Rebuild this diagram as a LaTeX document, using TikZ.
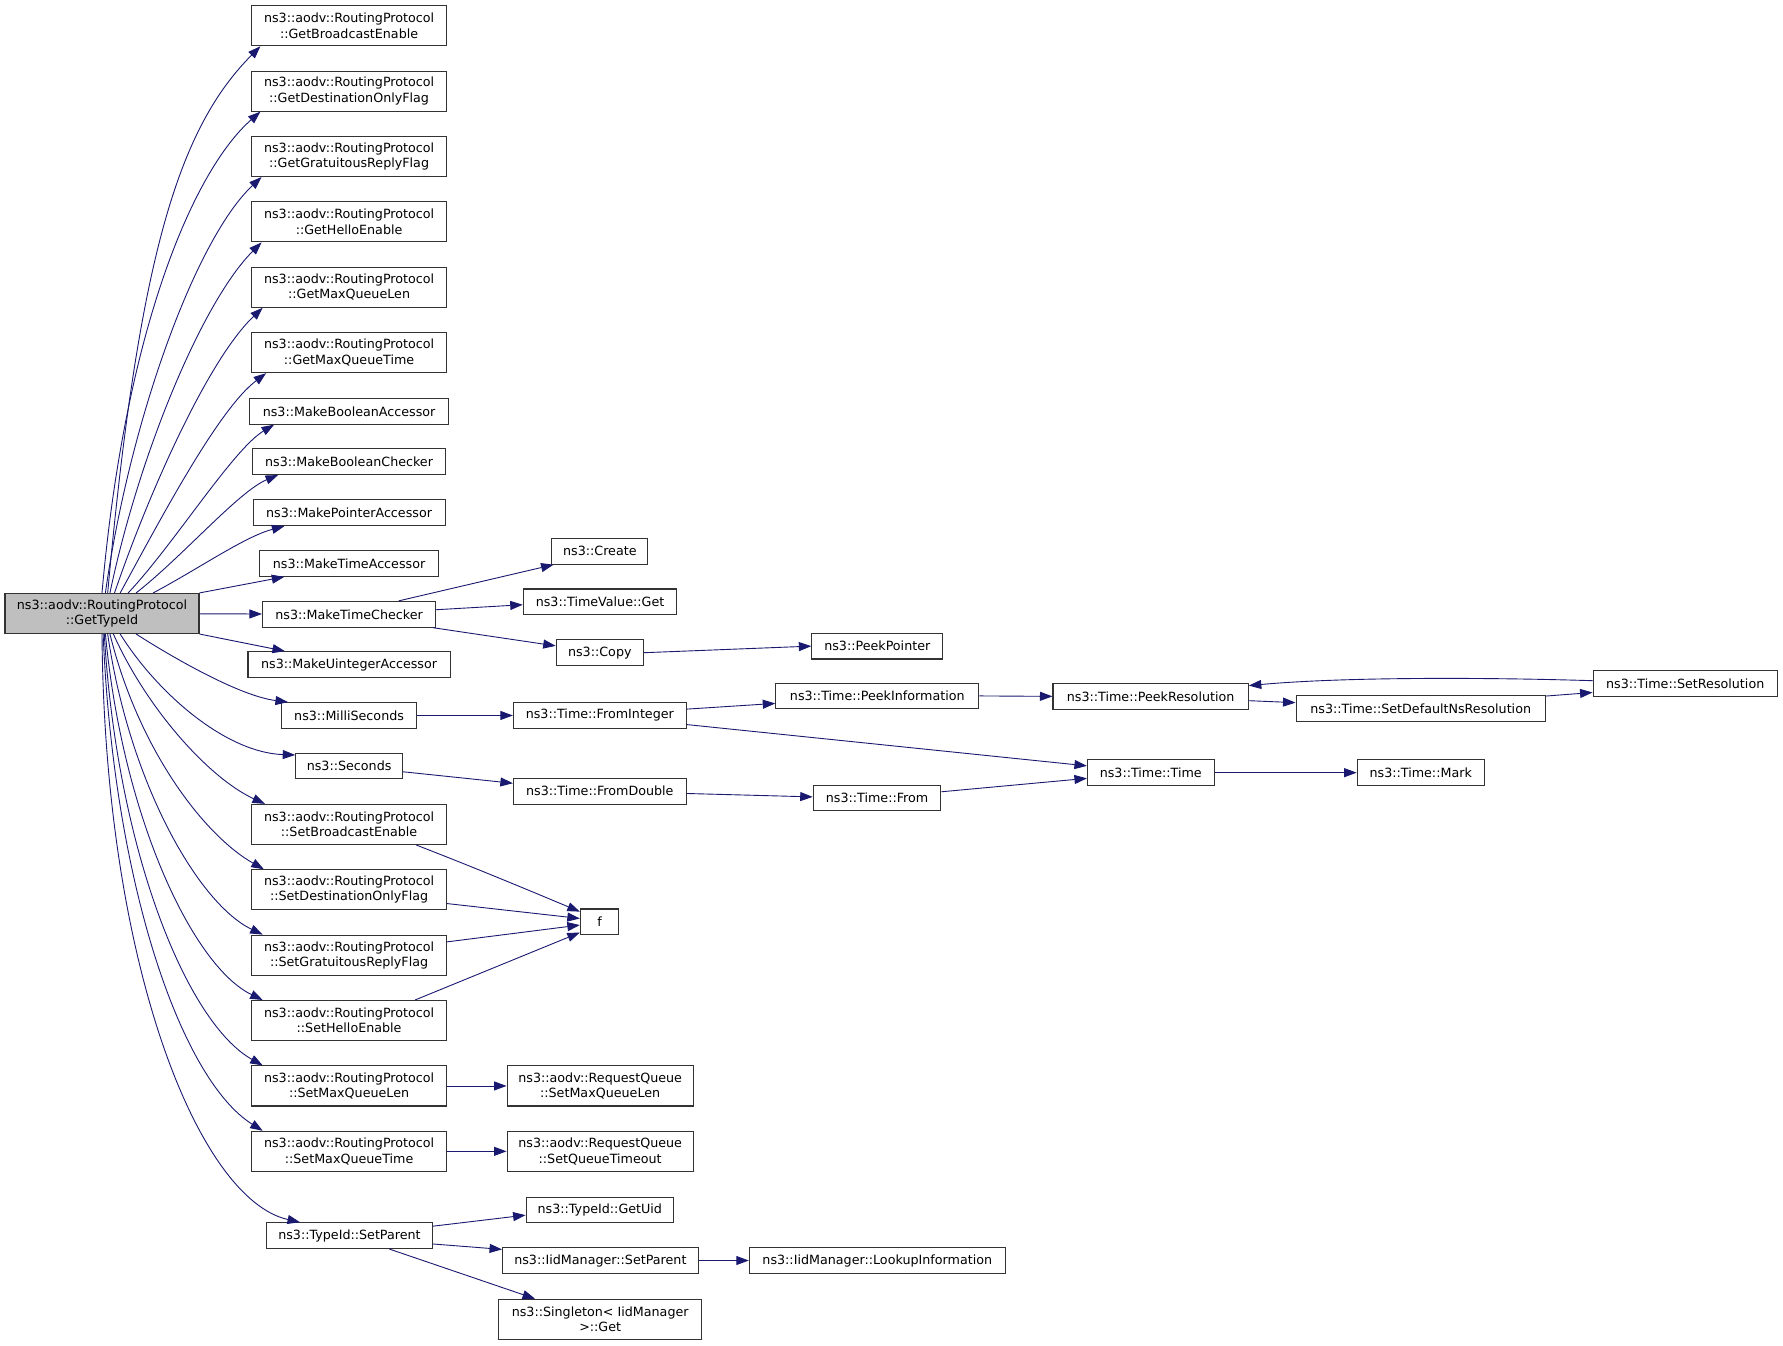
\documentclass[tikz,border=0pt]{standalone}
\usepackage{fontspec}
\setmainfont{DejaVu Sans}
\usetikzlibrary{arrows.meta,calc}
\definecolor{edgec}{HTML}{191970}
\definecolor{boxc}{HTML}{333333}
\definecolor{mainfill}{HTML}{BFBFBF}
\begin{document}
\begin{tikzpicture}[x=1.137pt,y=-1.137pt,
  every node/.style={font=\fontsize{12.7pt}{15.3pt}\selectfont},
  bx/.style={draw=boxc, line width=1.1pt, fill=white, inner sep=0pt, align=center,
             minimum width=#1*1.137pt, minimum height=22.6*1.137pt},
  bxx/.style={bx=#1, minimum height=35.2*1.137pt},
  e/.style={draw=edgec, line width=0.9pt, -{Triangle[length=12.5pt,width=9pt]}},
]
\useasboundingbox (0,0) rectangle (1568,1183);

% main
\node[bxx=170.6, fill=mainfill] (m) at (89.7,539.5) {ns3::aodv::RoutingProtocol\\::GetTypeId};

% column 1
\node[bxx=171] (gbe) at (307,22.6)  {ns3::aodv::RoutingProtocol\\::GetBroadcastEnable};
\node[bxx=171] (gdo) at (307,80.1)  {ns3::aodv::RoutingProtocol\\::GetDestinationOnlyFlag};
\node[bxx=171] (ggr) at (307,137.6) {ns3::aodv::RoutingProtocol\\::GetGratuitousReplyFlag};
\node[bxx=171] (ghe) at (307,195.1) {ns3::aodv::RoutingProtocol\\::GetHelloEnable};
\node[bxx=171] (gml) at (307,252.6) {ns3::aodv::RoutingProtocol\\::GetMaxQueueLen};
\node[bxx=171] (gmt) at (307,310.1) {ns3::aodv::RoutingProtocol\\::GetMaxQueueTime};
\node[bx=175]   (mba) at (307,361.7) {ns3::MakeBooleanAccessor};
\node[bx=170]   (mbc) at (307,406)   {ns3::MakeBooleanChecker};
\node[bx=168.8] (mpa) at (307,450.9) {ns3::MakePointerAccessor};
\node[bx=157]   (mta) at (307,495.5) {ns3::MakeTimeAccessor};
\node[bx=152.3] (mtc) at (307,540.2) {ns3::MakeTimeChecker};
\node[bx=177.9] (mua) at (307,584.4) {ns3::MakeUintegerAccessor};
\node[bx=118.6] (ms)  at (307,629.2) {ns3::MilliSeconds};
\node[bx=93.8]  (sec) at (307,673.7) {ns3::Seconds};
\node[bxx=171] (sbe) at (307,725)   {ns3::aodv::RoutingProtocol\\::SetBroadcastEnable};
\node[bxx=171] (sdo) at (307,782.5) {ns3::aodv::RoutingProtocol\\::SetDestinationOnlyFlag};
\node[bxx=171] (sgr) at (307,840)   {ns3::aodv::RoutingProtocol\\::SetGratuitousReplyFlag};
\node[bxx=171] (she) at (307,897.5) {ns3::aodv::RoutingProtocol\\::SetHelloEnable};
\node[bxx=171] (sml) at (307,955)   {ns3::aodv::RoutingProtocol\\::SetMaxQueueLen};
\node[bxx=171] (smt) at (307,1012.5){ns3::aodv::RoutingProtocol\\::SetMaxQueueTime};
\node[bx=146]   (tsp) at (307.3,1086.6) {ns3::TypeId::SetParent};

% column 2
\node[bx=84.4]  (create) at (527.5,484.8) {ns3::Create};
\node[bx=135]   (tvg)    at (527.7,529.3) {ns3::TimeValue::Get};
\node[bx=76.6]  (copy)   at (527.5,574)   {ns3::Copy};
\node[bx=152]   (fi)     at (527.5,629.2) {ns3::Time::FromInteger};
\node[bx=152]   (fd)     at (527.5,695.8) {ns3::Time::FromDouble};
\node[bx=33.6]  (f)      at (527.2,810.7) {f};
\node[bxx=163.7] (rqml)  at (527.8,955)   {ns3::aodv::RequestQueue\\::SetMaxQueueLen};
\node[bxx=163.7] (rqto)  at (527.8,1012.5){ns3::aodv::RequestQueue\\::SetQueueTimeout};
\node[bx=129.6] (gu)     at (527.5,1064)  {ns3::TypeId::GetUid};
\node[bx=172]   (ims)    at (528,1108.5)  {ns3::IidManager::SetParent};
\node[bxx=178.4] (sg)    at (527.8,1160.2){ns3::Singleton< IidManager\\>::Get};

% column 3
\node[bx=115]   (pp) at (771.5,568.2) {ns3::PeekPointer};
\node[bx=178.5] (pi) at (771.5,612)   {ns3::Time::PeekInformation};
\node[bx=112.2] (tf) at (771.3,701.8) {ns3::Time::From};
\node[bx=225]   (lu) at (771.5,1108.5){ns3::IidManager::LookupInformation};

% column 4
\node[bx=171.7] (pr) at (1011.9,612.4) {ns3::Time::PeekResolution};
\node[bx=111.3] (tt) at (1012,679.5)   {ns3::Time::Time};

% column 5
\node[bx=219.2] (sdn)  at (1249.4,622.9) {ns3::Time::SetDefaultNsResolution};
\node[bx=111.7] (mark) at (1249.4,679.5) {ns3::Time::Mark};

% column 6
\node[bx=162] (sr) at (1482,600.9) {ns3::Time::SetResolution};

% edges from main, upward
\draw[e] ($(m.north)+(5,0)$)  .. controls (122,222) and (158,112) .. ($(gbe.south west)+(8,0)$);
\draw[e] ($(m.north)+(0,0)$)  .. controls (110,290) and (170,150) .. ($(gdo.south west)+(8,0)$);
\draw[e] ($(m.north)+(3,0)$)  .. controls (114,370) and (172,210) .. ($(ggr.south west)+(9,0)$);
\draw[e] ($(m.north)+(7,0)$)  .. controls (122,400) and (178,265) .. ($(ghe.south west)+(9,0)$);
\draw[e] ($(m.north)+(11,0)$) .. controls (132,430) and (184,315) .. ($(gml.south west)+(10,0)$);
\draw[e] ($(m.north)+(16,0)$) .. controls (142,455) and (192,360) .. ($(gmt.south west)+(13,0)$);
\draw[e] ($(m.north)+(23,0)$) .. controls (152,480) and (205,395) .. ($(mba.south west)+(22,0)$);
\draw[e] ($(m.north)+(30,0)$) .. controls (160,490) and (210,432) .. ($(mbc.south west)+(23,0)$);
\draw[e] ($(m.north)+(45,0)$) .. controls (175,500) and (215,472) .. ($(mpa.south west)+(28,0)$);
\draw[e] (m.north east) -- ($(mta.south west)+(22,0)$);
\draw[e] (m) -- (mtc);
\draw[e] (m.south east) -- ($(mua.north west)+(33,0)$);

% edges from main, downward
\draw[e] ($(m.south)+(30,0)$) .. controls (150,577) and (210,612) .. ($(ms.north west)+(6,0)$);
\draw[e] ($(m.south)+(16,0)$) .. controls (140,612) and (200,662) .. ($(sec.north west)+(0,2)$);
\draw[e] ($(m.south)+(10,0)$) .. controls (130,625) and (185,685) .. ($(sbe.north west)+(12,0)$);
\draw[e] ($(m.south)+(7,0)$)  .. controls (122,660) and (180,735) .. ($(sdo.north west)+(11,0)$);
\draw[e] ($(m.south)+(5,0)$)  .. controls (114,690) and (175,795) .. ($(sgr.north west)+(10,0)$);
\draw[e] ($(m.south)+(3,0)$)  .. controls (108,720) and (170,850) .. ($(she.north west)+(10,0)$);
\draw[e] ($(m.south)+(2,0)$)  .. controls (103,750) and (165,900) .. ($(sml.north west)+(10,0)$);
\draw[e] ($(m.south)+(1,0)$)  .. controls (100,780) and (160,950) .. ($(smt.north west)+(10,0)$);
\draw[e] ($(m.south)+(0,0)$)  .. controls (92,850)  and (175,1055) .. ($(tsp.north west)+(30,0)$);

% column 1 -> column 2
\draw[e] ($(mtc.north east)+(-33,0)$) -- ($(create.south west)+(2,0)$);
\draw[e] ($(mtc.east)+(0,-4)$) -- ($(tvg.west)+(0,2.5)$);
\draw[e] ($(mtc.south east)+(-3,0)$) -- ($(copy.west)+(0,-6)$);
\draw[e] (ms.east) -- (fi.west);
\draw[e] ($(sec.east)+(0,5)$) -- ($(fd.west)+(0,-7)$);
\draw[e] ($(sbe.south east)+(-27,0)$) .. controls (420,764) and (470,785) .. ($(f.west)+(0,-9)$);
\draw[e] ($(sdo.south east)+(0,-6)$) -- ($(f.west)+(0,-3)$);
\draw[e] ($(sgr.north east)+(0,6.4)$) -- ($(f.west)+(0,2.8)$);
\draw[e] ($(she.north east)+(-28,0)$) -- ($(f.south west)+(0,-2.4)$);
\draw[e] (sml.east) -- (rqml.west);
\draw[e] (smt.east) -- (rqto.west);
\draw[e] ($(tsp.north east)+(0,3.5)$) -- ($(gu.west)+(0,4.6)$);
\draw[e] ($(tsp.south east)+(0,-4.4)$) -- ($(ims.north west)+(0,2)$);
\draw[e] ($(tsp.south)+(35,0)$) -- ($(sg.north west)+(32.4,0)$);

% column 2 -> column 3
\draw[e] (copy.east) -- (pp.west);
\draw[e] ($(fi.east)+(0,-5.6)$) -- ($(pi.west)+(0,6.6)$);
\draw[e] ($(fi.east)+(0,8)$) -- ($(tt.west)+(0,-6)$);
\draw[e] ($(fd.east)+(0,2)$) -- ($(tf.west)+(0,-1)$);
\draw[e] (ims.east) -- (lu.west);

% further right
\draw[e] ($(tf.east)+(0,-5.5)$) -- ($(tt.west)+(0,5)$);
\draw[e] (pi.east) -- (pr.west);
\draw[e] ($(pr.east)+(0,3.8)$) -- ($(sdn.west)+(0,-5)$);
\draw[e] ($(sdn.north east)+(0,1)$) -- ($(sr.south west)+(0,-3.7)$);
\draw[e] ($(sr.west)+(0,-2.3)$) .. controls (1300,595.5) and (1180,595.5) .. ($(pr.north east)+(0,2.3)$);
\draw[e] (tt.east) -- (mark.west);
\end{tikzpicture}
\end{document}
